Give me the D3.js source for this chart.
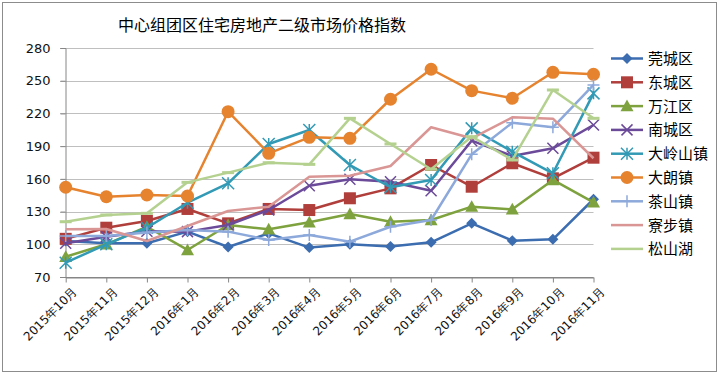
<!DOCTYPE html>
<html>
<head>
<meta charset="utf-8">
<script src="https://cdn.jsdelivr.net/npm/d3@7"></script>
<style>
  body { margin: 0; background: #fff; }
  text { font-family: "DejaVu Sans", Verdana, sans-serif; }
  .cjk { font-family: "Noto Sans CJK SC", sans-serif; }
</style>
</head>
<body>
<div class="chartBox"></div>
<script>
var months = ["2015年10月", "2015年11月", "2015年12月", "2016年1月", "2016年2月", "2016年3月", "2016年4月",
    "2016年5月", "2016年6月", "2016年7月", "2016年8月", "2016年9月", "2016年10月", "2016年11月"];
var yTicks = [70, 100, 130, 160, 190, 220, 250, 280];

var guancheng = [103, 101, 101, 111.6, 97.5, 110, 97, 100, 98, 101.8, 119.2, 103.3, 104.6, 141.3];
var dongcheng = [105, 115.2, 121.4, 132.4, 119.2, 132.4, 131.4, 142.2, 151.3, 172.7, 152.8, 174.3, 160.5, 179.4];
var wanjiang = [88.6, 100, 116.1, 94.8, 117.7, 113.7, 120.2, 127.8, 120.7, 122.3, 134.5, 132.1, 159, 138.5];
var nancheng = [101, 107, 112, 111.6, 117.7, 131.4, 153.7, 159.6, 157.4, 149.1, 195, 181, 188, 209.4];
var dalingshan = [83.1, 100, 115.2, 138.1, 155.9, 192, 204.8, 172.7, 152.3, 159, 206.3, 184.9, 165.1, 238.4];
var dalang = [152.3, 143.6, 145.2, 144.3, 221.6, 183.4, 198.1, 197.2, 233, 260.5, 240.9, 233.9, 257.7, 255.9];
var chashan = [107.6, 107.6, 110.7, 113.1, 111.6, 104, 108.5, 102.4, 116.1, 122.3, 182.5, 211.5, 207.3, 246.1];
var liaobu = [113.7, 114, 103, 116.8, 130.5, 134.5, 162, 162.9, 171.8, 207.3, 197.2, 216.4, 215.2, 178.9];
var songshanhu = [120.7, 126.9, 128.4, 156.8, 165.7, 174.8, 173.3, 215.5, 192, 168.8, 198.7, 177.3, 241.5, 215.5];

var seriesNames = ["莞城区", "东城区", "万江区", "南城区", "大岭山镇", "大朗镇", "茶山镇", "寮步镇", "松山湖"];
var seriesValues = [guancheng, dongcheng, wanjiang, nancheng, dalingshan, dalang, chashan, liaobu, songshanhu];
var seriesColors = ["#3c6db0", "#b03e3b", "#7ea23e", "#6b4a9a", "#329ab5", "#e6832f", "#8da9db", "#d99694", "#b5d190"];
var seriesMarkers = ["diamond", "square", "triangle", "x", "asterisk", "circle", "plus", "none", "dash"];

var width = 720, height = 374;
var svg = d3.select(".chartBox").append("svg")
    .attr("width", width)
    .attr("height", height);

// outer border
svg.append("rect")
    .attr("x", 2.5).attr("y", 2.5)
    .attr("width", 714).attr("height", 369)
    .attr("fill", "#fff")
    .attr("stroke", "#8c8c8c")
    .attr("stroke-width", 1);

svg.append("text")
    .attr("class", "cjk")
    .attr("x", 262).attr("y", 31)
    .attr("text-anchor", "middle")
    .attr("font-size", 16)
    .attr("fill", "#000")
    .text("中心组团区住宅房地产二级市场价格指数");

var x = d3.scalePoint().domain(months).range([65.7, 593.5]);
var y = d3.scaleLinear().domain([70, 280]).range([277, 48]);

// gridlines
svg.append("g")
    .selectAll("line")
    .data(yTicks)
    .enter()
    .append("line")
    .attr("x1", 60).attr("x2", 593.5)
    .attr("y1", function (d) { return Math.round(y(d)) + 0.5; })
    .attr("y2", function (d) { return Math.round(y(d)) + 0.5; })
    .attr("stroke", function (d) { return d === 70 ? "#868686" : "#bfbfbf"; })
    .attr("stroke-width", 1);

// y axis
var yAxis = svg.append("g")
    .attr("transform", "translate(65.5,0)")
    .call(d3.axisLeft(y).tickValues(yTicks).tickSize(5).tickPadding(10));
yAxis.select(".domain").attr("stroke", "#868686");
yAxis.selectAll(".tick line").attr("stroke", "#868686");
yAxis.selectAll("text").attr("font-size", 13).attr("fill", "#111");

// x axis
var xAxis = svg.append("g")
    .attr("transform", "translate(0," + (Math.round(y(70)) + 0.5) + ")")
    .call(d3.axisBottom(x).tickSize(5).tickSizeOuter(0));
xAxis.select(".domain").attr("stroke", "#868686");
xAxis.selectAll(".tick line").attr("stroke", "#868686");
xAxis.selectAll("text")
    .attr("font-size", 12)
    .attr("fill", "#111")
    .attr("text-anchor", "end")
    .attr("dy", 0)
    .attr("transform", "translate(6,9) rotate(-45)");

function markerPath(kind, s) {
    var h = s / 2;
    if (kind === "diamond") return "M0," + (-h) + "L" + h + ",0L0," + h + "L" + (-h) + ",0Z";
    if (kind === "square") return "M" + (-h) + "," + (-h) + "h" + s + "v" + s + "h" + (-s) + "Z";
    if (kind === "triangle") return "M0," + (-h) + "L" + h + "," + (h * 0.8) + "L" + (-h) + "," + (h * 0.8) + "Z";
    if (kind === "x") return "M" + (-h) + "," + (-h) + "L" + h + "," + h + "M" + h + "," + (-h) + "L" + (-h) + "," + h;
    if (kind === "asterisk") return "M" + (-h) + "," + (-h) + "L" + h + "," + h + "M" + h + "," + (-h) + "L" + (-h) + "," + h + "M0," + (-h) + "V" + h;
    if (kind === "plus") return "M0," + (-h) + "V" + h + "M" + (-h) + ",0H" + h;
    if (kind === "dash") return "M" + (-h) + ",0H" + h;
    return "";
}
var markerSize = { diamond: 11, square: 12, triangle: 13, x: 11, asterisk: 12, plus: 12, dash: 12 };

function drawMarker(g, kind, color, cx, cy) {
    if (kind === "none") return;
    if (kind === "circle") {
        g.append("circle").attr("cx", cx).attr("cy", cy).attr("r", 6.5).attr("fill", color);
        return;
    }
    var filled = kind === "diamond" || kind === "square" || kind === "triangle";
    g.append("path")
        .attr("transform", "translate(" + cx + "," + cy + ")")
        .attr("d", markerPath(kind, markerSize[kind]))
        .attr("fill", filled ? color : "none")
        .attr("stroke", color)
        .attr("stroke-width", filled ? 0 : (kind === "dash" ? 3 : 1.5));
}

var line = d3.line()
    .x(function (d, i) { return x(months[i]); })
    .y(function (d) { return y(d); });

var plot = svg.append("g");
seriesValues.forEach(function (vals, s) {
    var g = plot.append("g");
    g.append("path")
        .datum(vals)
        .attr("d", line)
        .attr("fill", "none")
        .attr("stroke", seriesColors[s])
        .attr("stroke-width", 2.5)
        .attr("stroke-linejoin", "round");
    vals.forEach(function (v, i) {
        drawMarker(g, seriesMarkers[s], seriesColors[s], x(months[i]), y(v));
    });
});

// legend
var legend = svg.append("g");
seriesNames.forEach(function (name, s) {
    var ly = 58.5 + s * 23.8;
    var g = legend.append("g");
    g.append("line")
        .attr("x1", 611).attr("x2", 643)
        .attr("y1", ly).attr("y2", ly)
        .attr("stroke", seriesColors[s])
        .attr("stroke-width", 2.5);
    if (seriesMarkers[s] !== "dash") drawMarker(g, seriesMarkers[s], seriesColors[s], 627, ly);
    g.append("text")
        .attr("class", "cjk")
        .attr("x", 648).attr("y", ly + 5.5)
        .attr("font-size", 15)
        .attr("fill", "#000")
        .text(name);
});
</script>
</body>
</html>
